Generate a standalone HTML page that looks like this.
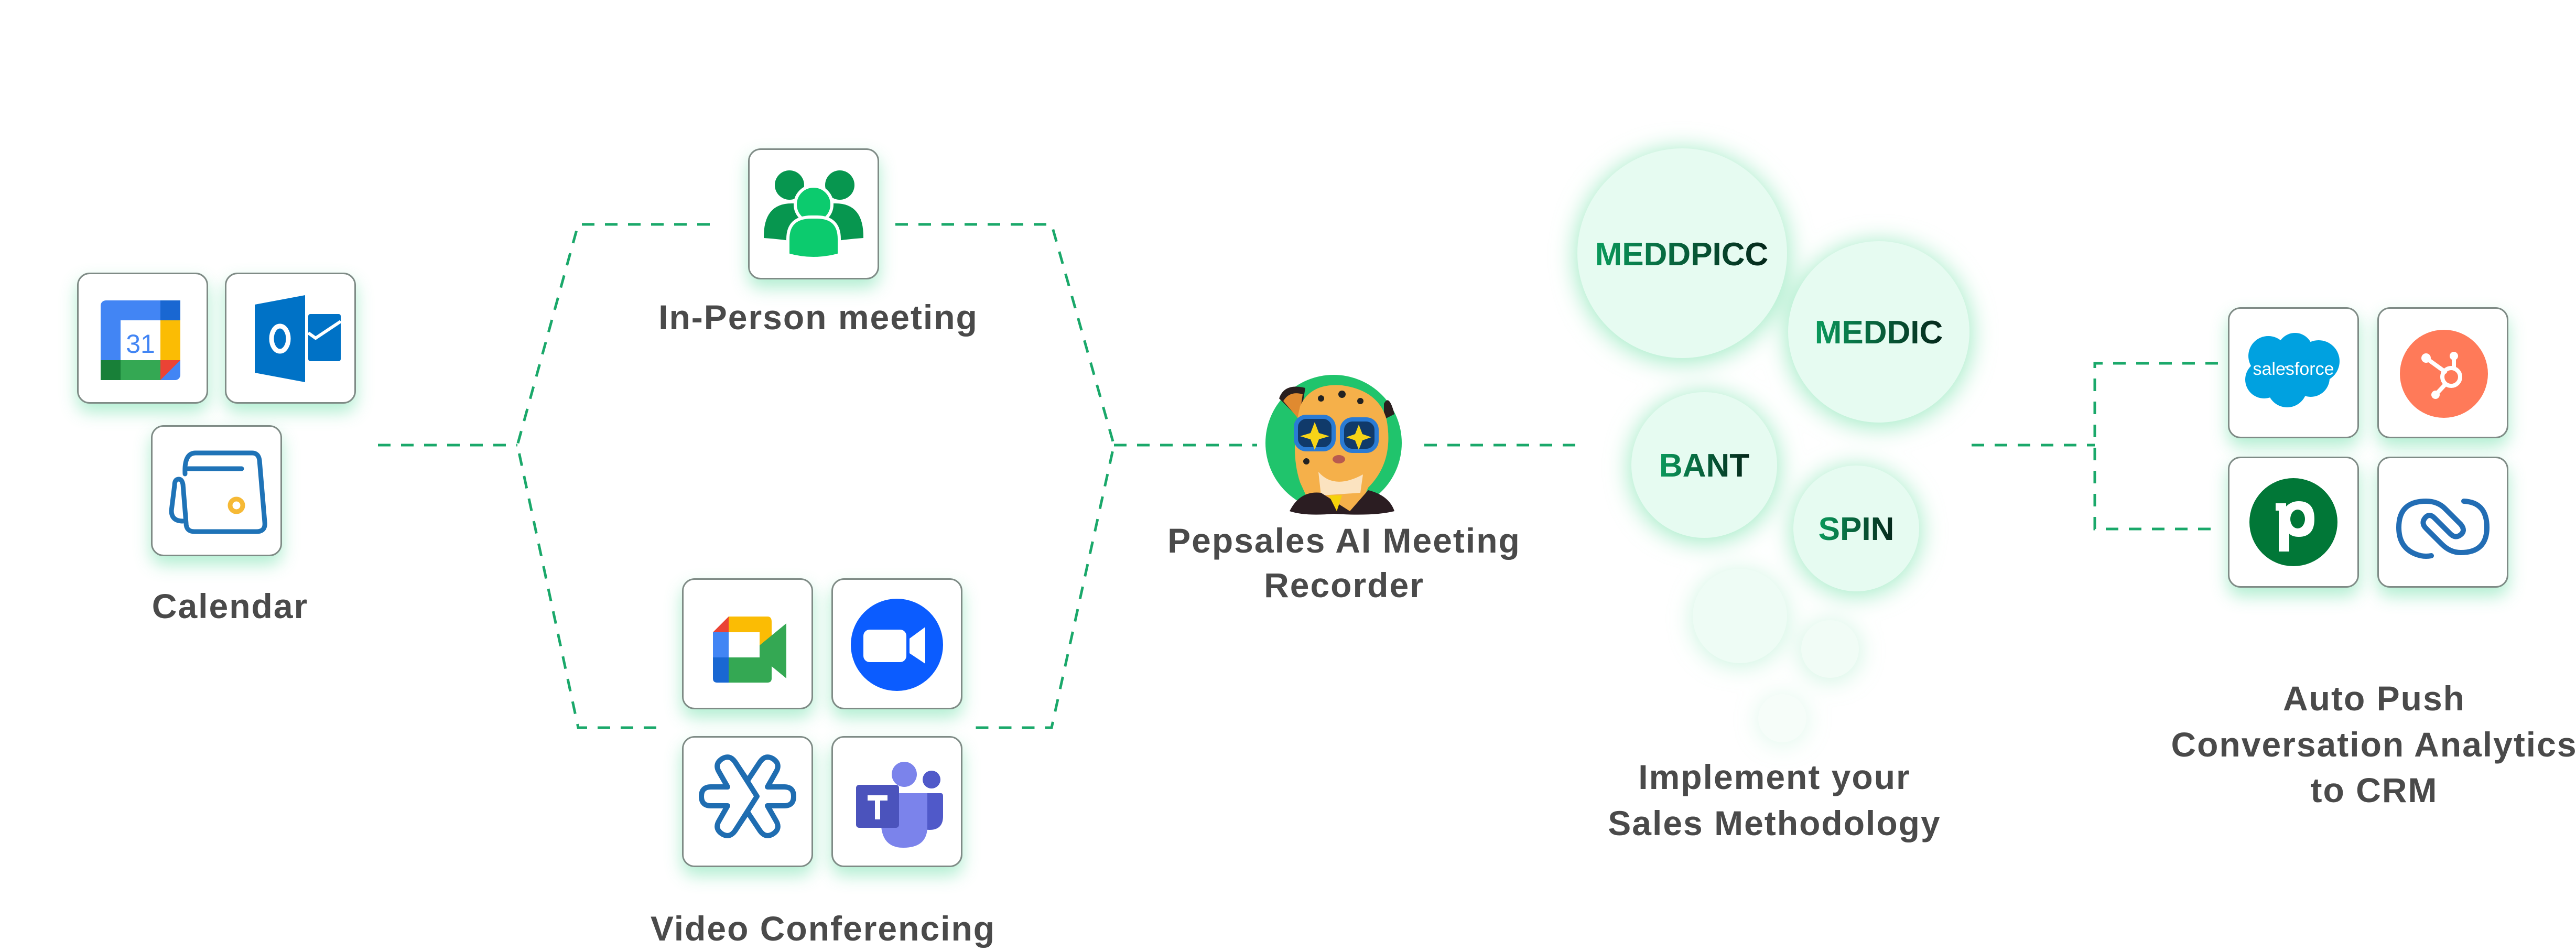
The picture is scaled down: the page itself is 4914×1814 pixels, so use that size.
<!DOCTYPE html>
<html><head><meta charset="utf-8">
<style>
html,body{margin:0;padding:0;background:#fff;}
body{width:4914px;height:1814px;position:relative;overflow:hidden;font-family:"Liberation Sans",sans-serif;}
.card{position:absolute;width:244px;height:244px;border:3px solid #7f8b86;border-radius:24px;background:#fff;box-shadow:0 16px 32px rgba(70,215,145,.42);}
.card svg{position:absolute;left:0;top:0;width:244px;height:244px;}
svg.main{position:absolute;left:0;top:0;}
</style></head><body>
<svg class="main" width="4914" height="1814" viewBox="0 0 4914 1814">
<defs>
<filter id="blur" x="-50%" y="-50%" width="200%" height="200%"><feGaussianBlur stdDeviation="22"/></filter>
<linearGradient id="tg" x1="0" y1="0" x2="1" y2="0"><stop offset="0" stop-color="#0a9a5c"/><stop offset="1" stop-color="#05261a"/></linearGradient>
</defs>
<g fill="none" stroke="#1aa86a" stroke-width="5" stroke-dasharray="24 20">
<path d="M721 849 H987"/>
<path d="M1354 428 H1103 L987 849 L1103 1388 H1254"/>
<path d="M1708 428 H2006 L2125 849 L2006 1388 H1849"/>
<path d="M2125 849 H2398"/>
<path d="M2717 849 H3009"/>
<path d="M3761 849 H3996"/>
<path d="M4231 693 H3996 V1009 H4231"/>
</g>
<g fill="#a5ecc8" filter="url(#blur)">
<circle cx="3209" cy="488" r="205"/><circle cx="3584" cy="638" r="178"/><circle cx="3251" cy="892" r="144"/><circle cx="3541" cy="1013" r="124"/>
<circle cx="3319" cy="1180" r="92" opacity=".55"/><circle cx="3491" cy="1242" r="58" opacity=".5"/><circle cx="3400" cy="1373" r="48" opacity=".35"/>
</g>
<g fill="#e6fbf1">
<circle cx="3209" cy="483" r="200"/><circle cx="3584" cy="633" r="173"/><circle cx="3251" cy="887" r="139"/><circle cx="3541" cy="1008" r="120"/>
<circle cx="3319" cy="1175" r="90" fill="#eefcf5"/><circle cx="3491" cy="1238" r="55" fill="#f1fcf6"/><circle cx="3400" cy="1370" r="46" fill="#f6fdf9"/>
</g>
<g font-family="Liberation Sans, sans-serif" font-weight="bold" font-size="62" fill="url(#tg)" text-anchor="middle">
<text x="3208" y="506">MEDDPICC</text>
<text x="3584" y="655">MEDDIC</text>
<text x="3251" y="909">BANT</text>
<text x="3541" y="1030">SPIN</text>
</g>
<g>
<circle cx="2544" cy="845" r="130" fill="#20c46c"/>
<path d="M2440 760 Q2450 730 2490 740 L2480 800 Z" fill="#2a1f1f"/>
<path d="M2448 765 Q2460 745 2485 752 L2478 800 Z" fill="#e08a30"/>
<path d="M2640 770 Q2650 750 2660 790 L2640 800Z" fill="#2a1f1f"/>
<path d="M2480 775 Q2500 730 2560 735 Q2630 745 2645 800 Q2660 880 2610 930 L2590 975 L2505 975 L2480 920 Q2460 860 2480 775Z" fill="#f5b04a"/>
<path d="M2515 900 Q2545 935 2600 905 L2595 940 L2520 945Z" fill="#fbe3c0"/>
<path d="M2460 975 Q2480 935 2520 940 L2575 975 L2610 935 Q2650 945 2660 975 Q2620 985 2544 980 Q2490 985 2460 975Z" fill="#2b1d22"/>
<path d="M2535 945 L2550 975 L2560 945Z" fill="#f5d20a"/>
<rect x="2472" y="795" width="72" height="62" rx="20" fill="#103a6a" stroke="#2a7bd4" stroke-width="8"/>
<rect x="2560" y="800" width="66" height="60" rx="20" fill="#103a6a" stroke="#2a7bd4" stroke-width="8"/>
<path d="M2508 805 L2516 826 L2536 832 L2516 838 L2508 858 L2500 838 L2480 832 L2500 826Z" fill="#f7d417"/>
<path d="M2592 810 L2599 828 L2616 834 L2599 840 L2592 858 L2585 840 L2568 834 L2585 828Z" fill="#f7d417"/>
<ellipse cx="2554" cy="876" rx="12" ry="8" fill="#b85a4f"/>
<circle cx="2520" cy="760" r="6" fill="#222"/><circle cx="2560" cy="752" r="7" fill="#222"/><circle cx="2595" cy="765" r="6" fill="#222"/><circle cx="2492" cy="880" r="6" fill="#222"/>
</g>
<g font-family="Liberation Sans, sans-serif" font-weight="bold" font-size="66" letter-spacing="2" fill="#4a4a4a" text-anchor="middle">
<text x="439" y="1179">Calendar</text>
<text x="1561" y="628">In-Person meeting</text>
<text x="1570" y="1794">Video Conferencing</text>
<text x="2564" y="1054">Pepsales AI Meeting</text>
<text x="2564" y="1139">Recorder</text>
<text x="3385" y="1505">Implement your</text>
<text x="3385" y="1593">Sales Methodology</text>
<text x="4529" y="1355">Auto Push</text>
<text x="4529" y="1443">Conversation Analytics</text>
<text x="4529" y="1530">to CRM</text>
</g>
</svg>

<div class="card" style="left:147px;top:520px"><svg viewBox="0 0 244 244">
<rect x="42" y="50" width="152" height="152" rx="10" fill="#4285f4"/>
<rect x="156" y="50" width="38" height="38" fill="#1967d2"/>
<rect x="156" y="88" width="38" height="76" fill="#fbbc04"/>
<rect x="42" y="164" width="38" height="38" fill="#188038"/>
<rect x="80" y="164" width="76" height="38" fill="#34a853"/>
<path d="M156 164 H194 L156 202Z" fill="#ea4335"/>
<rect x="80" y="88" width="76" height="76" fill="#fff"/>
<text x="118" y="150" font-family="Liberation Sans,sans-serif" font-size="50" fill="#4285f4" text-anchor="middle">31</text>
</svg></div>
<div class="card" style="left:429px;top:520px"><svg viewBox="0 0 244 244">
<path d="M54 58 L150 40 V206 L54 188Z" fill="#0072c6"/>
<rect x="156" y="76" width="62" height="90" rx="4" fill="#0072c6"/>
<path d="M156 112 L170 122 L218 90" stroke="#fff" stroke-width="6" fill="none"/>
<ellipse cx="102" cy="123" rx="16" ry="24" fill="none" stroke="#fff" stroke-width="9"/>
</svg></div>
<div class="card" style="left:288px;top:811px"><svg viewBox="0 0 244 244">
<g fill="none" stroke="#1f73b7" stroke-width="9" stroke-linecap="round" stroke-linejoin="round">
<path d="M62 90 Q60 50 82 50 H190 Q202 50 204 64 L214 182 Q216 200 198 200 H80 Q64 200 64 184 L58 110 Q56 100 50 100 Q42 100 42 112 L36 160 Q36 180 58 180"/>
<path d="M68 80 H170"/>
</g>
<circle cx="160" cy="150" r="12" fill="none" stroke="#f6b935" stroke-width="9"/>
</svg></div>
<div class="card" style="left:1427px;top:283px"><svg viewBox="0 0 244 244">
<circle cx="76" cy="67" r="28" fill="#07964f"/><circle cx="172" cy="67" r="28" fill="#07964f"/>
<path d="M27 168 Q26 102 80 102 H110 V178 Q60 170 27 168Z" fill="#07964f"/>
<path d="M217 168 Q218 102 164 102 H134 V178 Q184 170 217 168Z" fill="#07964f"/>
<circle cx="122" cy="104" r="35" fill="#0ccb6e" stroke="#fff" stroke-width="6"/>
<path d="M73 200 V170 Q73 128 118 128 H128 Q171 128 171 170 V200 Q122 214 73 200Z" fill="#0ccb6e" stroke="#fff" stroke-width="6"/>
</svg></div>
<div class="card" style="left:1301px;top:1103px"><svg viewBox="0 0 244 244">
<path d="M56 100 L86 70 V100Z" fill="#ea4335"/>
<path d="M86 70 H160 Q168 70 168 80 V132 L145 148 V100 H86Z" fill="#fbbc04"/>
<rect x="56" y="100" width="30" height="48" fill="#4285f4"/>
<path d="M56 148 H86 V196 H64 Q56 196 56 188Z" fill="#1967d2"/>
<path d="M86 148 H145 V130 L168 148 V188 Q168 196 160 196 H86Z" fill="#34a853"/>
<path d="M145 125 L196 83 V188 L145 146Z" fill="#34a853"/>
</svg></div>
<div class="card" style="left:1586px;top:1103px"><svg viewBox="0 0 244 244">
<circle cx="122" cy="124" r="88" fill="#0b5cff"/>
<rect x="58" y="95" width="82" height="62" rx="12" fill="#fff"/>
<path d="M146 112 L176 90 V160 L146 140Z" fill="#fff"/>
</svg></div>
<div class="card" style="left:1301px;top:1404px"><svg viewBox="0 0 244 244">
<g fill="none" stroke="#1f6db1" stroke-width="10" stroke-linejoin="round">
<path d="M122 82 L98 46 Q88 32 74 40 Q58 50 68 66 L84 94 H52 Q34 94 34 112 Q34 130 52 130 H84 L68 158 Q58 174 74 184 Q88 192 98 178 L122 142 L146 178 Q156 192 170 184 Q186 174 176 158 L160 130 H192 Q210 130 210 112 Q210 94 192 94 H160 L176 66 Q186 50 170 40 Q156 32 146 46Z"/>
<path d="M98 46 L140 112 L98 178"/>
</g>
</svg></div>
<div class="card" style="left:1586px;top:1404px"><svg viewBox="0 0 244 244">
<circle cx="188" cy="80" r="17" fill="#5059c9"/>
<path d="M160 106 H206 Q210 106 210 112 V150 Q210 176 184 176 Q164 176 160 160Z" fill="#5059c9"/>
<circle cx="136" cy="70" r="24" fill="#7b83eb"/>
<path d="M100 106 H180 V170 Q180 210 134 210 Q96 210 92 170Z" fill="#7b83eb"/>
<rect x="44" y="90" width="82" height="82" rx="6" fill="#4b53bc"/>
<path d="M66 110 H104 V120 H90 V156 H80 V120 H66Z" fill="#fff"/>
</svg></div>
<div class="card" style="left:4250px;top:586px"><svg viewBox="0 0 244 244">
<g fill="#00a1e0">
<circle cx="74" cy="90" r="38"/><circle cx="125" cy="80" r="34"/><circle cx="170" cy="100" r="40"/>
<circle cx="66" cy="135" r="36"/><circle cx="110" cy="150" r="38"/><circle cx="155" cy="132" r="36"/>
</g>
<text x="122" y="126" font-family="Liberation Sans,sans-serif" font-size="34" fill="#fff" text-anchor="middle">salesforce</text>
</svg></div>
<div class="card" style="left:4535px;top:586px"><svg viewBox="0 0 244 244">
<circle cx="124" cy="124" r="84" fill="#ff7a59"/>
<g stroke="#fff" stroke-width="8" fill="none" stroke-linecap="round">
<circle cx="138" cy="130" r="17"/><path d="M90 94 L126 120"/><path d="M143 94 V112"/><path d="M125 146 L110 162"/>
</g>
<circle cx="90" cy="94" r="9" fill="#fff"/><circle cx="143" cy="90" r="8" fill="#fff"/><circle cx="108" cy="164" r="8" fill="#fff"/>
</svg></div>
<div class="card" style="left:4250px;top:871px"><svg viewBox="0 0 244 244">
<circle cx="122" cy="122" r="84" fill="#017737"/>
<path d="M94 86 H108 V92 Q118 82 132 82 Q162 82 162 116 Q162 150 132 150 Q120 150 114 144 V178 H94 V100 H88 V86Z" fill="#fff"/>
<ellipse cx="130" cy="116" rx="14" ry="18" fill="#017737"/>
</svg></div>
<div class="card" style="left:4535px;top:871px"><svg viewBox="0 0 244 244">
<g fill="none" stroke="#226db4" stroke-width="10" stroke-linecap="round">
<path d="M100 186 Q90 188 80 186 Q38 176 38 132 Q38 82 90 82 Q112 82 126 96 L156 126 Q166 138 156 146 Q146 154 136 144 L106 114 Q96 104 88 114 Q80 124 90 134 L120 164 Q136 180 156 180 Q206 180 206 132 Q206 84 162 82"/>
</g>
</svg></div>
</body></html>
